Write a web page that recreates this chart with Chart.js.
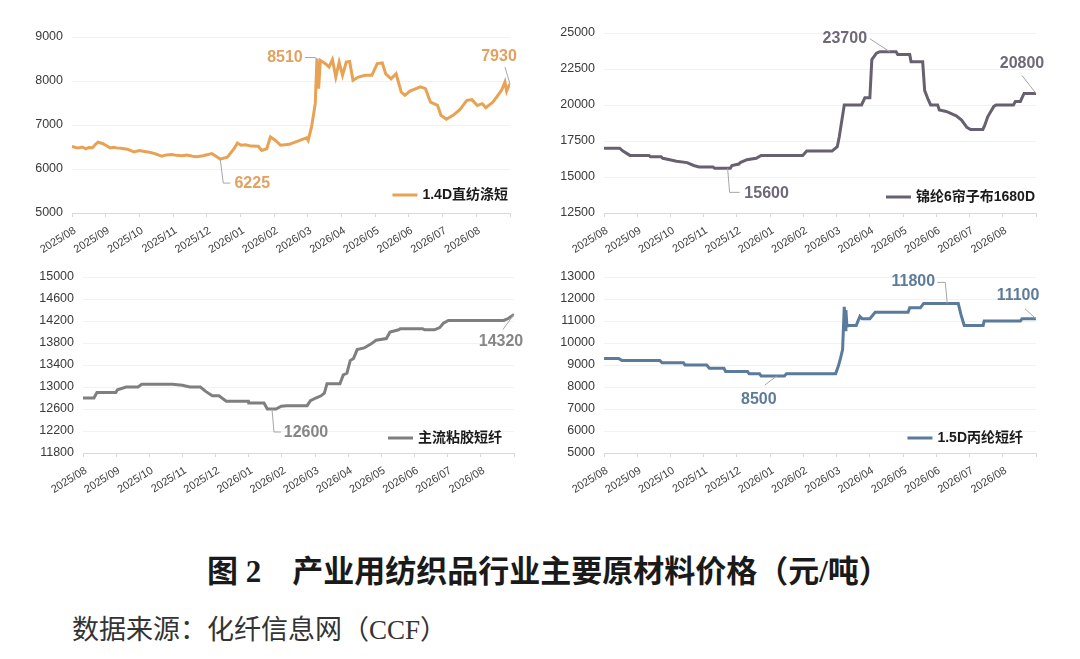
<!DOCTYPE html>
<html>
<head>
<meta charset="utf-8">
<script src="https://cdn.jsdelivr.net/npm/chart.js@4.4.1/dist/chart.umd.min.js"></script>
<style>
html, body { margin: 0; padding: 0; background: #fff; }
#page { position: relative; width: 1080px; height: 659px; overflow: hidden; background: #fff; }
#page canvas { position: absolute; }
#title {
    position: absolute; left: 207px; top: 551px; white-space: pre;
    font: bold 31px "Liberation Serif", "Noto Sans CJK SC", serif;
    color: #1a1a1a; line-height: 42px;
}
#source {
    position: absolute; left: 72px; top: 611px; white-space: pre;
    font: 27px "Liberation Serif", "Noto Sans CJK SC", serif;
    color: #333; line-height: 38px;
}
</style>
</head>
<body>
<div id="page">
    <canvas id="c1" width="540" height="260" style="left:0;top:0"></canvas>
    <canvas id="c2" width="540" height="260" style="left:540px;top:0"></canvas>
    <canvas id="c3" width="540" height="260" style="left:0;top:260px"></canvas>
    <canvas id="c4" width="540" height="260" style="left:540px;top:260px"></canvas>
    <div id="title">图 2　产业用纺织品行业主要原材料价格（元/吨）</div>
    <div id="source">数据来源：化纤信息网（CCF）</div>
</div>
<script>
// 月份刻度 (x = 距 2025/08 的月数)
const months = ['2025/08', '2025/09', '2025/10', '2025/11', '2025/12', '2026/01',
    '2026/02', '2026/03', '2026/04', '2026/05', '2026/06', '2026/07', '2026/08'];

// 1.4D直纺涤短
const psfPos = [0, 0.1, 0.2, 0.3, 0.41, 0.5, 0.61, 0.7, 0.77, 0.92, 1.0, 1.13, 1.23, 1.33, 1.45,
    1.64, 1.84, 2.0, 2.15, 2.3, 2.46, 2.66, 2.8, 2.97, 3.1, 3.28, 3.4, 3.58, 3.7, 3.89, 4.15,
    4.40, 4.61, 4.81, 4.91, 5.02, 5.15, 5.32, 5.53, 5.63, 5.78, 5.89, 6.04,
    6.19, 6.45, 6.76, 6.96, 7.01, 7.11, 7.22, 7.27, 7.32, 7.37, 7.52, 7.63, 7.73, 7.83, 7.93,
    8.03, 8.14, 8.24, 8.34, 8.50, 8.70, 8.90, 9.06, 9.21, 9.31, 9.47, 9.62, 9.77, 9.88, 10.03,
    10.34, 10.49, 10.64, 10.85, 10.95, 11.11, 11.31, 11.51, 11.72, 11.87, 12.03, 12.18, 12.28,
    12.49, 12.64, 12.75, 12.85, 12.9, 12.95, 13];
const psfPrice = [6515, 6490, 6480, 6500, 6460, 6490, 6485, 6560, 6610, 6575, 6540, 6480, 6495, 6480, 6470,
    6450, 6390, 6420, 6400, 6380, 6350, 6290, 6320, 6330, 6310, 6300, 6320, 6290, 6280, 6300, 6350,
    6225, 6270, 6460, 6590, 6540, 6550, 6520, 6515, 6420, 6460, 6730, 6650,
    6540, 6560, 6650, 6710, 6650, 6955, 7485, 8510, 7825, 8470, 8395, 8320, 8485, 8090, 8430,
    8130, 8430, 8445, 8015, 8090, 8130, 8130, 8395, 8410, 8165, 8050, 8165, 7750, 7675, 7770,
    7865, 7825, 7520, 7445, 7220, 7130, 7220, 7350, 7560, 7575, 7445, 7485, 7395,
    7520, 7675, 7790, 7975, 7770, 7865, 7930];
const psfMarks = [[7.27, 8510], [4.40, 6225], [13, 7930]];

// 锦纶6帘子布1680D
const nylonPos = [0, 0.47, 0.57, 0.78, 1.35, 1.4, 1.72, 1.77, 1.98, 2.18, 2.5, 2.7, 2.86, 3.28,
    3.33, 3.8, 3.85, 4.06, 4.1, 4.3, 4.58, 4.73, 5.98, 6.1, 6.86, 7.02, 7.08, 7.23, 7.75, 7.85,
    8.0, 8.06, 8.2, 8.3, 8.79, 8.84, 9.2, 9.24, 9.59, 9.65, 9.76, 9.83, 10.04, 10.09, 10.3,
    10.45, 10.6, 10.76, 10.92, 11.03, 11.4, 11.45, 11.55, 11.73, 11.8, 12.32, 12.38, 12.53,
    12.64, 13];
const nylonPrice = [17000, 17000, 16800, 16500, 16500, 16400, 16400, 16300, 16200, 16100, 16000,
    15800, 15700, 15700, 15600, 15600, 15800, 15900, 16000, 16200, 16300, 16500, 16500, 16800,
    16800, 17100, 17800, 20000, 20000, 20500, 20500, 23150, 23600, 23700, 23700, 23500, 23500,
    23000, 23000, 21000, 20350, 20000, 20000, 19650, 19550, 19400, 19250, 18950, 18450, 18300,
    18300, 18550, 19200, 19900, 20000, 20000, 20250, 20250, 20800, 20800];
const nylonMarks = [[8.6, 23700], [13, 20800], [3.72, 15600]];

// 主流粘胶短纤
const vscPos = [0, 0.33, 0.42, 0.99, 1.04, 1.3, 1.66, 1.77, 2.7, 3.0, 3.22, 3.54, 3.7, 3.9, 4.1,
    4.32, 4.99, 5.0, 5.46, 5.56, 5.82, 5.98, 6.14, 6.76, 6.86, 7.02, 7.18, 7.28, 7.36, 7.75,
    7.85, 7.96, 8.06, 8.16, 8.27, 8.48, 8.68, 8.84, 9.15, 9.26, 9.52, 9.57, 10.24, 10.3, 10.6,
    10.76, 10.87, 11.02, 12.69, 12.84, 13];
const vscPrice = [12800, 12800, 12900, 12900, 12950, 13000, 13000, 13050, 13050, 13030, 13000,
    13000, 12920, 12840, 12840, 12740, 12740, 12710, 12710, 12600, 12600, 12650, 12660, 12660,
    12750, 12800, 12840, 12890, 13060, 13060, 13220, 13250, 13480, 13520, 13680, 13710, 13780,
    13850, 13880, 14000, 14040, 14060, 14060, 14040, 14040, 14080, 14160, 14210, 14210, 14250,
    14320];
const vscMarks = [[5.7, 12600], [13, 14320]];

// 1.5D丙纶短纤
const ppPos = [0, 0.44, 0.54, 1.68, 1.75, 2.39, 2.44, 3.09, 3.17, 3.61, 3.66, 4.32, 4.37, 4.68,
    4.73, 5.43, 5.49, 6.97, 7.05, 7.12, 7.18, 7.23, 7.26, 7.28, 7.31, 7.38, 7.59, 7.7, 7.77,
    8.0, 8.16, 9.15, 9.2, 9.52, 9.62, 10.66, 10.74, 10.84, 11.41, 11.44, 12.53, 12.58, 13];
const ppPrice = [9300, 9300, 9200, 9200, 9100, 9100, 9000, 9000, 8850, 8850, 8700, 8700, 8600,
    8600, 8500, 8500, 8600, 8600, 8940, 9320, 9700, 11650, 10600, 11500, 10760, 10800, 10800,
    11210, 11100, 11100, 11400, 11400, 11600, 11600, 11800, 11800, 11300, 10800, 10800, 11000,
    11000, 11100, 11100];
const ppMarks = [[10.33, 11800], [13, 11100], [5.2, 8500]];

const FONT = '"Liberation Sans", "Noto Sans CJK SC", sans-serif';
Chart.defaults.font.family = FONT;

// 数据标签 + 图例 (画在绘图区内)
const notesPlugin = {
    id: 'notes',
    afterDatasetsDraw(chart, args, opts) {
        const ctx = chart.ctx;
        const area = chart.chartArea;
        const sx = chart.scales.x, sy = chart.scales.y;
        ctx.save();
        opts.marks.forEach((m, i) => {
            const st = opts.markStyle[i];
            const px = sx.getPixelForValue(m[0]);
            const py = sy.getPixelForValue(m[1]);
            ctx.strokeStyle = '#a6a6a6';
            ctx.lineWidth = 1;
            ctx.beginPath();
            st.leader.forEach((p, k) => {
                if (k === 0) ctx.moveTo(px + p[0], py + p[1]);
                else ctx.lineTo(px + p[0], py + p[1]);
            });
            ctx.stroke();
            ctx.font = 'bold 16px ' + FONT;
            ctx.fillStyle = opts.textColor;
            ctx.textAlign = 'center';
            ctx.textBaseline = 'middle';
            ctx.fillText(String(m[1]), px + st.dx, py + st.dy);
        });

        // 图例
        ctx.font = 'bold 14px ' + FONT;
        const w = ctx.measureText(opts.name).width;
        const tx = area.right - opts.legendInset - w;
        const ty = area.bottom + opts.legendDy;
        ctx.fillStyle = '#1a1a1a';
        ctx.textAlign = 'left';
        ctx.textBaseline = 'middle';
        ctx.fillText(opts.name, tx, ty);
        ctx.strokeStyle = opts.color;
        ctx.lineWidth = 3;
        ctx.beginPath();
        ctx.moveTo(tx - 30, ty);
        ctx.lineTo(tx - 5, ty);
        ctx.stroke();
        ctx.restore();
    }
};

function makeChart(id, cfg) {
    new Chart(document.getElementById(id), {
        type: 'line',
        data: {
            datasets: [{
                label: cfg.name,
                data: cfg.pos.map((x, i) => ({ x: x, y: cfg.price[i] })),
                borderColor: cfg.color,
                borderWidth: 3,
                pointRadius: 0,
                tension: 0,
                fill: false
            }]
        },
        options: {
            responsive: false,
            animation: false,
            layout: { padding: { left: 0, right: cfg.padRight, top: cfg.padTop, bottom: 0 } },
            plugins: {
                legend: { display: false },
                tooltip: { enabled: false },
                notes: {
                    marks: cfg.marks,
                    markStyle: cfg.markStyle,
                    textColor: cfg.textColor,
                    name: cfg.name,
                    color: cfg.color,
                    legendInset: cfg.legendInset,
                    legendDy: cfg.legendDy
                }
            },
            scales: {
                x: {
                    type: 'linear',
                    min: 0,
                    max: 13,
                    afterFit: s => { s.height = cfg.xAxisH; },
                    grid: { drawOnChartArea: false, drawTicks: true, tickLength: 4, color: '#d9d9d9' },
                    border: { color: '#d9d9d9' },
                    ticks: {
                        stepSize: 1,
                        autoSkip: false,
                        maxTicksLimit: 20,
                        minRotation: 32,
                        maxRotation: 32,
                        padding: 7,
                        labelOffset: 3,
                        color: '#404040',
                        font: { size: 11 },
                        callback: v => months[v] || ''
                    }
                },
                y: {
                    min: cfg.yMin,
                    max: cfg.yMax,
                    afterFit: s => { s.width = cfg.left; },
                    grid: { color: '#f2f2f2', drawTicks: false },
                    border: { display: false },
                    ticks: {
                        stepSize: cfg.yStep,
                        padding: 9,
                        color: '#3a3a3a',
                        font: { size: 12.5 },
                        callback: v => String(v)
                    }
                }
            }
        },
        plugins: [notesPlugin]
    });
}

makeChart('c1', {
    name: '1.4D直纺涤短', pos: psfPos, price: psfPrice, marks: psfMarks,
    color: '#E8A254', textColor: '#E2A15E',
    yMin: 5000, yMax: 9000, yStep: 1000,
    left: 72, padRight: 30, padTop: 37, xAxisH: 47,
    legendInset: 2, legendDy: -18,
    markStyle: [
        { dx: -32, dy: -1, leader: [[0, 0], [-2, -1], [-12, -1]] },
        { dx: 32, dy: 24, leader: [[0, 0], [3, 24], [10, 24]] },
        { dx: -11, dy: -27, leader: [[0, 0], [-5, -17]] }
    ]
});

makeChart('c2', {
    name: '锦纶6帘子布1680D', pos: nylonPos, price: nylonPrice, marks: nylonMarks,
    color: '#67606F', textColor: '#6E6878',
    yMin: 12500, yMax: 25000, yStep: 2500,
    left: 64, padRight: 44, padTop: 33, xAxisH: 47,
    legendInset: 1, legendDy: -16,
    markStyle: [
        { dx: -45, dy: -13, leader: [[0, 0], [-20, -13]] },
        { dx: -14, dy: -30, leader: [[0, 0], [-14, -18]] },
        { dx: 39, dy: 25, leader: [[0, 0], [2, 24], [12, 24]] }
    ]
});

makeChart('c3', {
    name: '主流粘胶短纤', pos: vscPos, price: vscPrice, marks: vscMarks,
    color: '#7F7F7F', textColor: '#868686',
    yMin: 11800, yMax: 15000, yStep: 400,
    left: 83, padRight: 26, padTop: 17, xAxisH: 67,
    legendInset: 12, legendDy: -15,
    markStyle: [
        { dx: 34, dy: 24, leader: [[0, 0], [2, 23], [9, 23]] },
        { dx: -13, dy: 27, leader: [[0, 0], [-11, 15]] }
    ]
});

makeChart('c4', {
    name: '1.5D丙纶短纤', pos: ppPos, price: ppPrice, marks: ppMarks,
    color: '#5A7B9B', textColor: '#5D7C9A',
    yMin: 5000, yMax: 13000, yStep: 1000,
    left: 64, padRight: 44, padTop: 17, xAxisH: 67,
    legendInset: 13, legendDy: -15,
    markStyle: [
        { dx: -34, dy: -22, leader: [[0, 0], [-2, -21], [-10, -21]] },
        { dx: -18, dy: -23, leader: [[0, 0], [-11, -10]] },
        { dx: -18, dy: 24, leader: [[0, 0], [-12, 9]] }
    ]
});
</script>
</body>
</html>
